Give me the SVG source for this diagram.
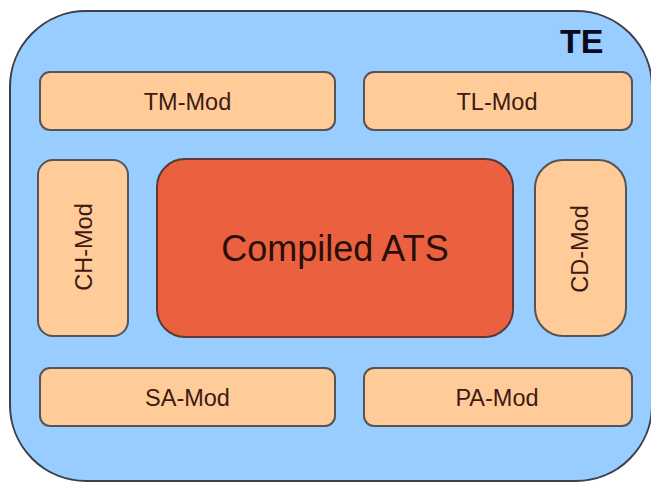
<svg xmlns="http://www.w3.org/2000/svg" width="651" height="482" viewBox="0 0 651 482">
  <style>
    .env { fill: #99ccff; stroke: #3a3f4a; stroke-width: 2; }
    .mod { fill: #ffcc99; stroke: #555555; stroke-width: 2; }
    .core { fill: #eb6140; stroke: #5a3a33; stroke-width: 2; }
    .lbl { font-family: "Liberation Sans", Arial, sans-serif; font-size: 23.5px; fill: #3d1a12; text-anchor: middle; }
    .big { font-family: "Liberation Sans", Arial, sans-serif; font-size: 36px; fill: #2a0e0a; text-anchor: middle; }
    .title { font-family: "Liberation Sans", Arial, sans-serif; font-size: 34px; font-weight: bold; fill: #0a0a1e; }
  </style>
  <rect width="651" height="482" fill="#ffffff"/>

  <!-- test environment container -->
  <g id="TE">
    <rect class="env" x="10" y="11" width="642" height="470" rx="76" ry="76"/>
    <text class="title" x="560" y="53">TE</text>
  </g>

  <g id="TM-Mod">
    <rect class="mod" x="40" y="72" width="295" height="58" rx="10" ry="10"/>
    <text class="lbl" x="187.5" y="109.5">TM-Mod</text>
  </g>
  <g id="TL-Mod">
    <rect class="mod" x="364" y="72" width="268" height="58" rx="10" ry="10"/>
    <text class="lbl" x="497" y="109.5">TL-Mod</text>
  </g>

  <g id="CH-Mod">
    <rect class="mod" x="38" y="160" width="90" height="176" rx="15" ry="15"/>
    <text class="lbl" transform="translate(91.5,247) rotate(-90)" x="0" y="0">CH-Mod</text>
  </g>

  <g id="Compiled-ATS">
    <rect class="core" x="157" y="159" width="356" height="178" rx="28" ry="28"/>
    <text class="big" x="335" y="260.5">Compiled ATS</text>
  </g>

  <g id="CD-Mod">
    <rect class="mod" x="535" y="160" width="91" height="176" rx="28" ry="28"/>
    <text class="lbl" transform="translate(588,249) rotate(-90)" x="0" y="0">CD-Mod</text>
  </g>

  <g id="SA-Mod">
    <rect class="mod" x="40" y="368" width="295" height="58" rx="10" ry="10"/>
    <text class="lbl" x="187.5" y="405.5">SA-Mod</text>
  </g>
  <g id="PA-Mod">
    <rect class="mod" x="364" y="368" width="268" height="58" rx="10" ry="10"/>
    <text class="lbl" x="497" y="405.5">PA-Mod</text>
  </g>

  <g id="connectors"></g>
</svg>
